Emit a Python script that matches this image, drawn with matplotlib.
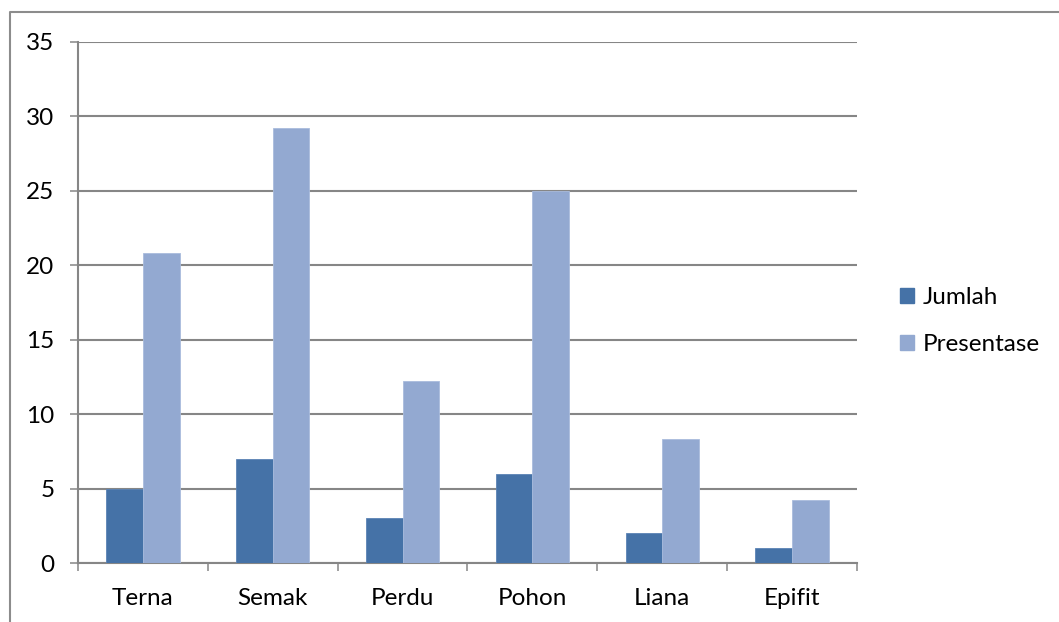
import matplotlib
matplotlib.use("Agg")
import matplotlib.pyplot as plt
import numpy as np
from matplotlib.lines import Line2D
from matplotlib.patches import Patch

categories = ["Terna", "Semak", "Perdu", "Pohon", "Liana", "Epifit"]
jumlah = [5, 7, 3, 6, 2, 1]
presentase = [20.8, 29.2, 12.2, 25.0, 8.3, 4.2]
series_names = ["Jumlah", "Presentase"]
y_ticks = [0, 5, 10, 15, 20, 25, 30, 35]

plt.rcParams['font.family'] = ['Lato', 'DejaVu Sans']

W, H = 1059, 622
fig = plt.figure(figsize=(W / 100, H / 100), dpi=100)
fig.patch.set_facecolor("white")

ax = fig.add_axes([78 / W, 1 - 563 / H, (857 - 78) / W, (563 - 42) / H])

c_dark = "#4572A7"
c_light = "#93A9D1"
grid_c = "#868686"

x = np.arange(len(categories))
bw = 0.283
ax.bar(x - bw / 2, jumlah, width=bw, color=c_dark, edgecolor="#5B83B5", linewidth=0.6, zorder=3)
ax.bar(x + bw / 2, presentase, width=bw, color=c_light, edgecolor="#A9BCDD", linewidth=0.6, zorder=3)

ax.set_xlim(-0.5, len(categories) - 0.5)
ax.set_ylim(0, 35)

ax.set_yticks(y_ticks)
ax.set_yticklabels([str(v) for v in y_ticks])
ax.yaxis.grid(True, color=grid_c, linewidth=1.5, zorder=0)
ax.set_axisbelow(True)

ax.set_xticks(np.arange(-0.5, len(categories), 1.0))
ax.set_xticklabels([])
ax.set_xticks(x, minor=True)
ax.set_xticklabels(categories, minor=True)

fs = 17.5
ax.tick_params(axis="y", which="major", length=6, width=1.1, color=grid_c,
               labelsize=fs, pad=11, labelcolor="black")
ax.tick_params(axis="x", which="major", length=6, width=1.1, color=grid_c)
ax.tick_params(axis="x", which="minor", length=0, labelsize=fs, pad=18, labelcolor="black")

for s in ["top", "right"]:
    ax.spines[s].set_visible(False)
for s in ["left", "bottom"]:
    ax.spines[s].set_color(grid_c)
    ax.spines[s].set_linewidth(1.5)

# outer chart frame (left and top edges visible)
fig.add_artist(Line2D([9.5 / W, 9.5 / W, 1.0], [0.0, 1 - 11.5 / H, 1 - 11.5 / H],
                      transform=fig.transFigure, color="#8C8C8C", linewidth=1.5))

handles = [Patch(facecolor=c_dark, edgecolor=c_dark), Patch(facecolor=c_light, edgecolor=c_light)]
fig.legend(handles, series_names, loc="center left",
           bbox_to_anchor=(878 / W, 1 - 321 / H), frameon=False, fontsize=fs,
           handlelength=0.58, handleheight=0.58, handletextpad=0.35, labelspacing=1.05)

fig.savefig("out.png", dpi=100, facecolor="white")
